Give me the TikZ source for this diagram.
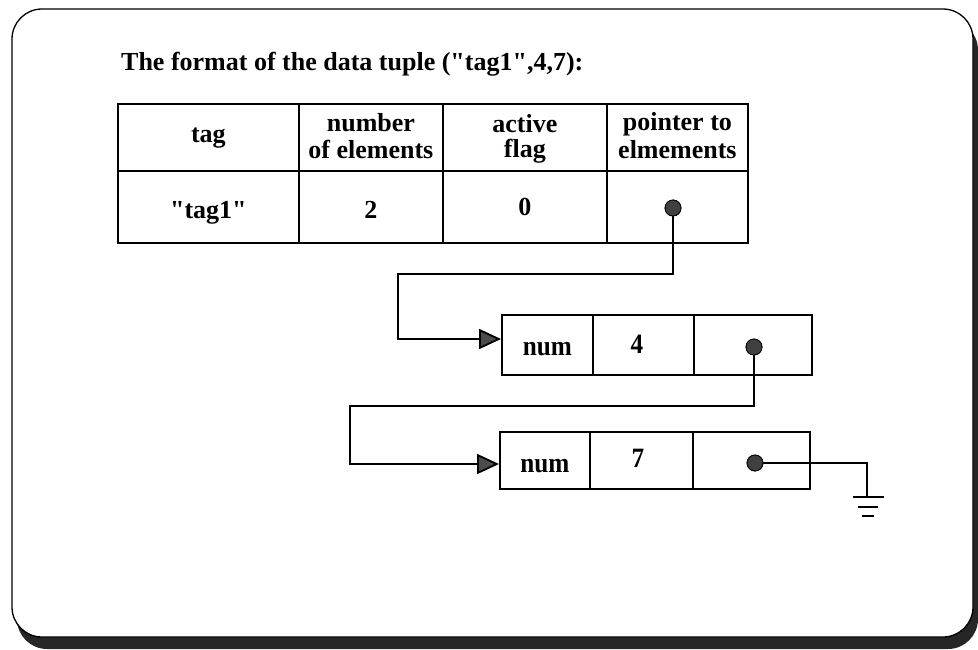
\documentclass[tikz,border=0pt]{standalone}
\usepackage{fontspec}
\setmainfont{Liberation Serif}
\newfontfamily\tallserif[FakeStretch=0.9]{Liberation Serif}
\usetikzlibrary{arrows.meta}
\begin{document}
\begin{tikzpicture}[x=1pt,y=-1pt,
  cell/.style={draw=black, line width=1.8pt, inner sep=0pt, anchor=north west},
  lbl/.style={anchor=base, inner sep=0pt, font=\fontsize{26}{30}\selectfont\bfseries},
  boxlbl/.style={anchor=base, inner sep=0pt, font=\tallserif\fontsize{28}{30}\selectfont\bfseries},
  ptr/.style={circle, draw=black, line width=0.8pt, fill=black!75,
    minimum size=16pt, inner sep=0pt},
  link/.style={draw=black, line width=1.8pt},
  tip/.style={-{Triangle[length=22pt,width=20pt,fill=black!70]}},
  bar/.style={draw=black, line width=2.4pt}]
\useasboundingbox (0,0) rectangle (978,649);

% card with its drop shadow
\fill[black!85, rounded corners=30pt] (17,20) rectangle (978,649);
\draw[fill=white, line width=1.3pt, rounded corners=30pt] (12,9) rectangle (973,637);

% heading
\node[anchor=base west, inner sep=0pt, font=\fontsize{26}{30}\selectfont\bfseries]
  (title) at (121,70) {The format of the data tuple (\textquotedbl tag1\textquotedbl,4,7):};

% tuple table: header row
\node[cell, minimum width=181pt, minimum height=67pt] (h1) at (117,103) {};
\node[cell, minimum width=144pt, minimum height=67pt] (h2) at (298,103) {};
\node[cell, minimum width=164pt, minimum height=67pt] (h3) at (442,103) {};
\node[cell, minimum width=141pt, minimum height=67pt] (h4) at (606,103) {};
% tuple table: value row
\node[cell, minimum width=181pt, minimum height=72pt] (v1) at (117,170) {};
\node[cell, minimum width=144pt, minimum height=72pt] (v2) at (298,170) {};
\node[cell, minimum width=164pt, minimum height=72pt] (v3) at (442,170) {};
\node[cell, minimum width=141pt, minimum height=72pt] (v4) at (606,170) {};

% header texts
\node[lbl] (th1) at (h1.center |- 0,142) {tag};
\node[lbl] (th2a) at (h2.center |- 0,131) {number};
\node[lbl] (th2b) at (h2.center |- 0,158) {of elements};
\node[lbl] (th3a) at (h3.center |- 0,132) {active};
\node[lbl] (th3b) at (h3.center |- 0,157) {flag};
\node[lbl] (th4a) at (h4.center |- 0,130) {pointer to};
\node[lbl] (th4b) at (h4.center |- 0,158) {elmements};
% value texts
\node[lbl] (tv1) at (v1.center |- 0,218) {\textquotedbl tag1\textquotedbl};
\node[lbl] (tv2) at (v2.center |- 0,218) {2};
\node[lbl] (tv3) at (v3.center |- 0,215) {0};

% first element cell
\node[cell, minimum width=91pt, minimum height=60pt] (a1) at (501,314) {};
\node[cell, minimum width=101pt, minimum height=60pt] (a2) at (592,314) {};
\node[cell, minimum width=118pt, minimum height=60pt] (a3) at (693,314) {};
\node[boxlbl] (ta1) at (a1.center |- 0,355) {num};
\node[boxlbl] (ta2) at (637,353) {4};

% second element cell
\node[cell, minimum width=90pt, minimum height=57pt] (b1) at (499,431) {};
\node[cell, minimum width=103pt, minimum height=57pt] (b2) at (589,431) {};
\node[cell, minimum width=117pt, minimum height=57pt] (b3) at (692,431) {};
\node[boxlbl] (tb1) at (b1.center |- 0,472) {num};
\node[boxlbl] (tb2) at (638,467) {7};

% bend points of the pointer lines
\coordinate (k1) at (673,274);
\coordinate (k2) at (398,339);
\coordinate (k3) at (754,406);
\coordinate (k4) at (350,464);
\coordinate (g) at (867,497);

% pointer dots
\node[ptr] (p1) at (673,208) {};
\node[ptr] (p2) at (754,347) {};
\node[ptr] (p3) at (755,463) {};

% pointer links
\draw[link, tip] (p1.center) -- (k1) -| (k2) -- (k2 -| a1.west);
\draw[link, tip] (p2.center) -- (k3) -| (k4) -- (k4 -| b1.west);
\draw[link] (p3.center) -| (g);

% null pointer: ground symbol
\draw[bar] (853,497) -- (884,497);
\draw[bar] (858,507) -- (878,507);
\draw[bar] (862,516) -- (874,516);

% dots drawn again on top of their lines
\node[ptr] at (p1) {};
\node[ptr] at (p2) {};
\node[ptr] at (p3) {};
\end{tikzpicture}
\end{document}
